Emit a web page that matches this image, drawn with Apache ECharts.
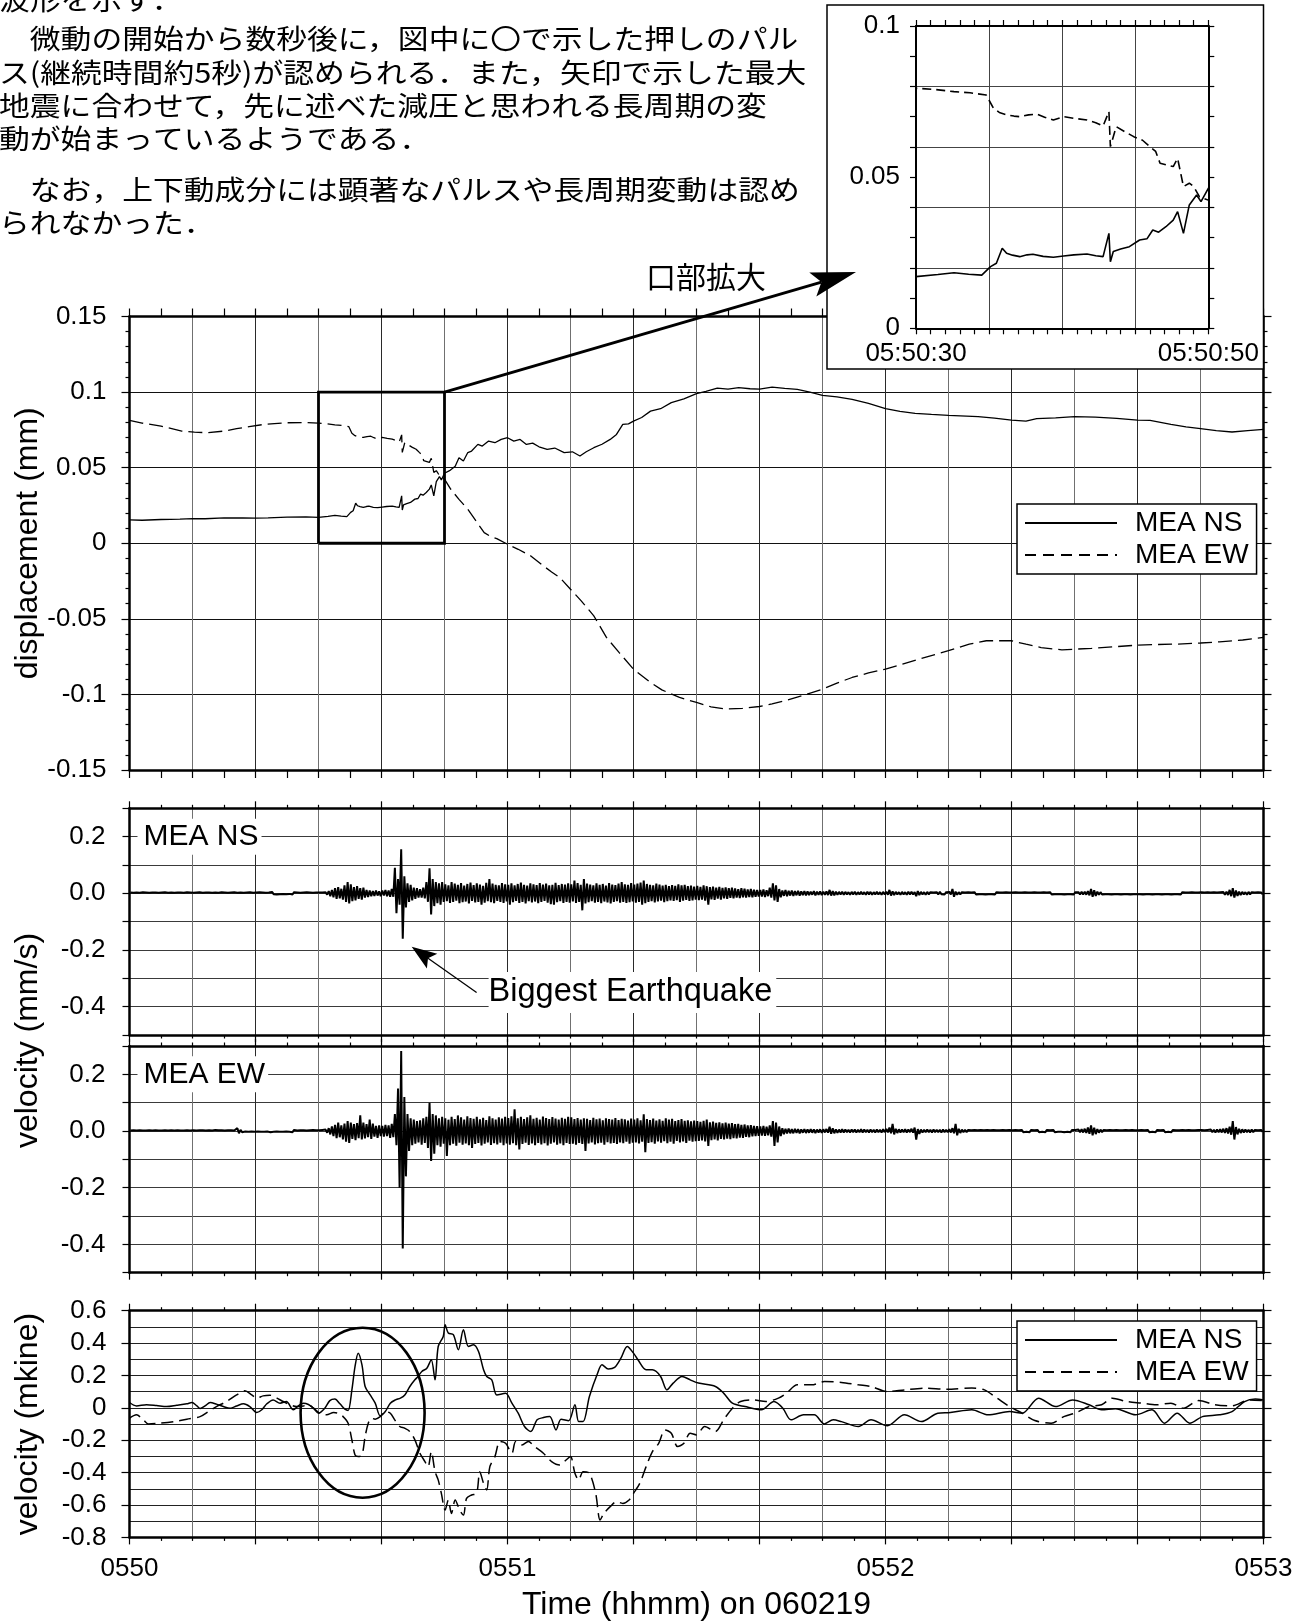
<!DOCTYPE html>
<html>
<head>
<meta charset="utf-8">
<script src="https://cdn.jsdelivr.net/npm/echarts@6/dist/echarts.min.js"></script>
<style>
html, body { margin: 0; padding: 0; background: #fff; }
#chart { width: 1310px; height: 1622px; }
</style>
</head>
<body>
<div id="chart"></div>
<script>
// ---------------------------------------------------------------
// Data: time is seconds after 05:50:00 (060219)
// ---------------------------------------------------------------

// Text block above the chart
const paragraphLines = [
  '波形を示す．',
  '　微動の開始から数秒後に，図中に〇で示した押しのパル',
  'ス(継続時間約5秒)が認められる．また，矢印で示した最大',
  '地震に合わせて，先に述べた減圧と思われる長周期の変',
  '動が始まっているようである．',
  '　なお，上下動成分には顕著なパルスや長周期変動は認め',
  'られなかった．'
];

const timeTickLabels = ['0550', '0551', '0552', '0553'];
const insetTickLabels = { 30: '05:50:30', 50: '05:50:50' };
const seriesNames = ['MEA NS', 'MEA EW'];

// Displacement (mm) [t, value]
const dispNS = [
  [0,.0154],[2,.0152],[5,.0157],[8,.016],[10,.0163],[12,.0162],[15,.0168],[18,.0167],[20,.0166],
  [22,.0168],[25,.0173],[28,.0175],[30,.0171],[31.5,.0178],[32.6,.0184],[33.6,.0179],[34.5,.0176],
  [35.1,.0204],[35.5,.0215],[35.9,.0265],[36.2,.0248],[36.6,.0242],[37.1,.0237],[37.6,.0243],
  [38,.0245],[38.7,.0238],[39.4,.0235],[40.1,.0239],[40.8,.0243],[41.7,.0246],[42.3,.0240],
  [42.8,.0237],[43.2,.0314],[43.3,.022],[43.5,.0254],[44,.0262],[44.6,.027],[45.3,.0292],
  [45.8,.0296],[46.2,.0325],[46.6,.0318],[47.1,.0336],[47.6,.0358],[47.9,.0386],[48.3,.0314],
  [48.7,.0408],[49.2,.0441],[49.5,.0419],[50,.0463],[50.8,.048],[51.7,.051],[52.3,.0566],
  [53,.0544],[53.7,.060],[54.3,.061],[55.3,.0654],[56,.0643],[57,.0676],[58,.0665],[59,.0687],
  [60,.0698],[61,.0676],[62,.0687],[63,.0654],[64,.0662],[65,.0638],[66.3,.0621],[67.5,.0630],
  [69,.060],[70.3,.0605],[71.5,.0577],[72.5,.0605],[73.7,.0632],[75,.0655],[76.3,.0687],
  [77.3,.0720],[78.3,.0786],[79.2,.0790],[80,.0808],[81.3,.0832],[82.7,.0874],[84.3,.0890],
  [86,.093],[88,.0955],[90,.099],[91.5,.1005],[93.3,.1026],[95,.1020],[96.7,.1029],[98.5,.1022],
  [100,.102],[102,.1033],[104,.1025],[106,.1018],[108,.1000],[110,.0978],[112.3,.0968],
  [114.7,.0952],[117.3,.0925],[120,.089],[122.3,.0872],[124.7,.0859],[127.3,.0852],[130,.0846],
  [134.7,.0837],[137.3,.0828],[140,.0815],[142.3,.0808],[144,.0824],[147,.0830],[150,.0837],
  [153.3,.0835],[156.7,.0826],[160,.0815],[162,.0813],[165.3,.0786],[167.7,.0770],[170,.0758],
  [172.5,.0745],[175,.0736],[177.5,.0745],[180,.0753]
];
const dispEW = [
  [0,.0813],[2,.0795],[5,.0775],[8.3,.0742],[10.3,.0735],[12.3,.0731],[15,.0742],[17,.0758],
  [19,.0772],[21,.0784],[23,.0792],[25,.0797],[28,.0798],[30,.0794],[31.3,.0790],[32.6,.0783],
  [33.7,.0779],[34.8,.0772],[35.3,.0728],[35.7,.0714],[36.2,.0706],[36.7,.0702],[37.1,.070],
  [37.7,.0706],[38.3,.0708],[38.8,.0698],[39.4,.0689],[40.1,.070],[40.9,.0694],[41.7,.0689],
  [42.3,.0680],[42.8,.0669],[43.2,.0717],[43.3,.0601],[43.7,.0667],[44.3,.0650],[44.9,.0634],
  [45.5,.0622],[46,.0601],[46.4,.0585],[46.7,.0546],[47.2,.0540],[47.6,.0535],[47.9,.0562],
  [48.3,.0469],[48.7,.0480],[49,.0469],[49.4,.0435],[50,.0424],[51,.0357],[52.3,.029],
  [53.7,.0225],[55,.0148],[56.3,.007],[57.3,.0045],[58.3,.0031],[60,-.0007],[61.7,-.004],
  [63.7,-.0084],[65.7,-.015],[67,-.019],[68.3,-.0227],[70,-.0304],[71.7,-.0381],[73.7,-.048],
  [75.7,-.0623],[77.7,-.0722],[80,-.0833],[82.5,-.0915],[84.5,-.097],[87.3,-.102],[90,-.1053],
  [92.3,-.1082],[94.7,-.1097],[97.3,-.1092],[100,-.108],[102,-.1062],[104,-.1042],[107,-.1005],
  [110,-.0965],[112.3,-.0925],[114.7,-.0888],[117.3,-.0858],[120,-.0833],[122.7,-.0800],
  [125.3,-.0767],[127.7,-.0738],[130,-.0711],[133.3,-.0667],[136,-.0645],[140,-.0645],
  [142.3,-.0668],[144.7,-.069],[148,-.0705],[150.3,-.0700],[152.7,-.0696],[156.3,-.0685],
  [160,-.0674],[163,-.0670],[166.3,-.0667],[170,-.0660],[173,-.0652],[176.7,-.0640],[180,-.0623]
];

// Zoomed window drawn as a box and enlarged in the inset
const zoomBoxT = [30, 50];
const zoomBoxV = [0, 0.1];

// Velocity (mm/s): peak-to-peak envelope in 0.5 s bins starting at 0 s (upper / lower peaks)
const velBinWidth = 0.5;
const nsVelHi = [
  .003,.002,.003,.002,.004,.003,.002,.003,.003,.002,.003,.004,.002,.003,.002,.003,.003,.002,.004,.003,
  .002,.003,.004,.002,.003,.003,.002,.003,.002,.004,.003,.002,.003,.004,.002,.003,.002,.003,.004,.002,
  .003,.004,.003,.002,.003,.005,.003,.002,.004,.003,.003,.002,.004,.003,.002,.003,.004,.003,.002,.003,
  .003,.003,.004,.008,.012,.018,.022,.016,.028,.040,.032,.022,.025,.018,.020,.012,.010,.008,.010,.007,
  .010,.012,.010,.015,.090,.050,.155,.060,.035,.030,.020,.018,.015,.020,.040,.088,.050,.040,.035,.040,
  .032,.028,.040,.034,.030,.036,.027,.033,.038,.029,.035,.031,.026,.037,.050,.034,.030,.028,.036,.032,
  .030,.035,.028,.033,.038,.030,.027,.035,.032,.029,.036,.031,.034,.028,.030,.037,.029,.033,.031,.035,
  .032,.045,.036,.030,.050,.034,.031,.028,.035,.030,.033,.027,.036,.031,.029,.034,.040,.032,.030,.036,
  .031,.034,.038,.045,.033,.030,.028,.034,.031,.027,.030,.025,.029,.026,.032,.028,.030,.025,.027,.024,
  .026,.023,.028,.025,.022,.024,.020,.023,.019,.021,.018,.020,.017,.015,.018,.016,.014,.015,.013,.012,
  .012,.014,.011,.020,.035,.028,.015,.010,.012,.009,.010,.008,.009,.007,.008,.007,.006,.008,.006,.007,
  .006,.007,.012,.008,.006,.005,.006,.005,.004,.005,.006,.004,.005,.004,.006,.005,.004,.005,.004,.005,
  .006,.012,.007,.005,.004,.005,.004,.006,.005,.004,.008,.005,.004,.005,.004,.003,.004,.005,.004,.004,
  .005,.015,.006,.004,.004,.003,.004,.003,.004,.003,.004,.003,.003,.004,.003,.004,.003,.003,.004,.003,
  .003,.004,.003,.003,.004,.003,.003,.004,.003,.003,.004,.003,.004,.003,.003,.004,.003,.003,.004,.003,
  .004,.004,.005,.006,.008,.015,.011,.006,.004,.003,.004,.003,.003,.004,.003,.003,.004,.003,.003,.004,
  .003,.004,.003,.003,.004,.003,.004,.003,.003,.004,.003,.003,.004,.003,.004,.003,.003,.004,.003,.003,
  .004,.003,.004,.003,.004,.003,.004,.005,.006,.012,.018,.010,.006,.005,.004,.005,.004,.003,.004,.003
];
const nsVelLo = [
  -.002,-.003,-.002,-.003,-.002,-.003,-.004,-.002,-.003,-.002,-.003,-.002,-.004,-.002,-.003,-.003,-.002,-.003,-.002,-.004,
  -.003,-.002,-.003,-.003,-.002,-.004,-.003,-.002,-.003,-.002,-.004,-.003,-.002,-.003,-.003,-.002,-.004,-.003,-.002,-.003,
  -.002,-.003,-.004,-.003,-.002,-.003,-.004,-.003,-.002,-.003,-.002,-.004,-.003,-.002,-.003,-.004,-.002,-.003,-.003,-.002,
  -.003,-.003,-.005,-.010,-.014,-.020,-.018,-.022,-.030,-.036,-.028,-.025,-.020,-.022,-.015,-.013,-.010,-.009,-.008,-.010,
  -.008,-.010,-.012,-.012,-.070,-.040,-.160,-.050,-.030,-.025,-.020,-.015,-.015,-.018,-.030,-.075,-.045,-.035,-.040,-.030,
  -.028,-.034,-.030,-.026,-.035,-.031,-.029,-.036,-.027,-.032,-.030,-.040,-.033,-.028,-.031,-.035,-.027,-.030,-.034,-.029,
  -.040,-.031,-.027,-.034,-.030,-.036,-.028,-.032,-.029,-.035,-.030,-.027,-.033,-.038,-.040,-.031,-.028,-.034,-.030,-.033,
  -.029,-.034,-.030,-.060,-.036,-.031,-.028,-.033,-.030,-.035,-.029,-.032,-.036,-.030,-.028,-.033,-.030,-.034,-.031,-.029,
  -.033,-.030,-.040,-.035,-.030,-.028,-.032,-.029,-.026,-.031,-.028,-.025,-.027,-.024,-.030,-.026,-.023,-.027,-.025,-.022,
  -.024,-.022,-.026,-.040,-.021,-.023,-.019,-.022,-.018,-.020,-.016,-.018,-.015,-.017,-.014,-.015,-.013,-.014,-.012,-.011,
  -.011,-.013,-.010,-.015,-.025,-.030,-.014,-.009,-.010,-.008,-.009,-.007,-.008,-.006,-.007,-.006,-.005,-.007,-.005,-.006,
  -.005,-.006,-.008,-.007,-.005,-.004,-.005,-.004,-.005,-.004,-.005,-.004,-.004,-.005,-.004,-.005,-.004,-.004,-.005,-.004,
  -.005,-.008,-.006,-.004,-.005,-.004,-.005,-.004,-.004,-.010,-.006,-.004,-.005,-.004,-.003,-.004,-.004,-.003,-.004,-.003,
  -.004,-.012,-.005,-.004,-.003,-.004,-.003,-.003,-.004,-.003,-.003,-.004,-.003,-.003,-.004,-.003,-.003,-.004,-.003,-.003,
  -.003,-.003,-.004,-.003,-.003,-.004,-.003,-.003,-.003,-.004,-.003,-.003,-.004,-.003,-.003,-.003,-.004,-.003,-.003,-.004,
  -.003,-.004,-.004,-.005,-.007,-.012,-.009,-.005,-.004,-.003,-.003,-.004,-.003,-.003,-.004,-.003,-.003,-.004,-.003,-.003,
  -.003,-.004,-.003,-.003,-.004,-.003,-.003,-.004,-.003,-.003,-.004,-.003,-.003,-.004,-.003,-.003,-.004,-.003,-.003,-.004,
  -.003,-.004,-.003,-.004,-.003,-.004,-.003,-.005,-.006,-.010,-.015,-.009,-.006,-.004,-.005,-.004,-.003,-.004,-.003,-.004
];
const ewVelHi = [
  .002,.003,.002,.003,.002,.002,.003,.002,.003,.002,.002,.003,.002,.003,.002,.003,.002,.002,.003,.002,
  .003,.002,.003,.003,.002,.003,.002,.004,.003,.003,.002,.003,.003,.002,.010,.004,.003,.002,.003,.002,
  .003,.002,.003,.004,.002,.003,.003,.002,.004,.003,.002,.003,.004,.002,.003,.003,.002,.003,.004,.003,
  .003,.004,.005,.010,.016,.022,.030,.020,.026,.035,.030,.024,.028,.055,.030,.024,.040,.026,.018,.020,
  .018,.022,.020,.025,.060,.150,.282,.120,.060,.045,.040,.035,.038,.045,.050,.100,.060,.055,.045,.050,
  .045,.040,.050,.042,.055,.048,.040,.052,.046,.043,.050,.041,.047,.039,.052,.045,.040,.048,.044,.050,
  .046,.052,.077,.045,.050,.042,.048,.055,.043,.047,.040,.051,.046,.042,.049,.044,.040,.047,.043,.050,
  .048,.042,.046,.040,.045,.043,.039,.047,.041,.044,.038,.045,.042,.040,.046,.039,.043,.041,.037,.044,
  .040,.045,.038,.059,.042,.039,.044,.037,.041,.036,.045,.040,.043,.035,.039,.042,.036,.038,.034,.037,
  .035,.032,.036,.040,.031,.033,.029,.031,.027,.030,.026,.028,.024,.025,.022,.023,.020,.021,.018,.017,
  .016,.018,.015,.020,.035,.030,.016,.010,.008,.009,.007,.008,.007,.006,.007,.006,.007,.006,.005,.006,
  .006,.007,.015,.010,.006,.005,.006,.005,.004,.005,.005,.004,.006,.005,.004,.005,.004,.005,.004,.006,
  .007,.012,.025,.008,.006,.005,.006,.005,.008,.012,.007,.005,.004,.005,.004,.005,.004,.004,.005,.004,
  .006,.010,.025,.008,.005,.004,.004,.003,.004,.003,.004,.003,.004,.003,.004,.003,.003,.004,.003,.004,
  .003,.004,.003,.004,.003,.003,.004,.003,.004,.003,.003,.004,.003,.004,.003,.003,.004,.003,.003,.004,
  .004,.005,.006,.008,.012,.020,.012,.007,.005,.004,.003,.004,.003,.004,.003,.003,.004,.003,.004,.003,
  .003,.004,.003,.004,.003,.003,.004,.003,.004,.003,.003,.004,.003,.003,.004,.003,.004,.003,.003,.004,
  .004,.003,.004,.005,.004,.005,.006,.008,.010,.015,.035,.014,.008,.006,.005,.004,.005,.004,.003,.004
];
const ewVelLo = [
  -.003,-.002,-.003,-.002,-.003,-.003,-.002,-.003,-.002,-.003,-.003,-.002,-.003,-.002,-.003,-.002,-.003,-.003,-.002,-.003,
  -.002,-.003,-.002,-.003,-.003,-.002,-.003,-.003,-.002,-.003,-.003,-.002,-.003,-.003,-.008,-.004,-.002,-.003,-.002,-.003,
  -.002,-.003,-.003,-.002,-.004,-.003,-.002,-.003,-.003,-.002,-.003,-.004,-.002,-.003,-.003,-.002,-.004,-.003,-.002,-.003,
  -.003,-.003,-.006,-.012,-.018,-.025,-.022,-.030,-.038,-.042,-.028,-.032,-.025,-.030,-.026,-.022,-.028,-.020,-.024,-.018,
  -.020,-.018,-.024,-.022,-.050,-.200,-.415,-.160,-.070,-.050,-.045,-.040,-.048,-.042,-.060,-.106,-.080,-.050,-.055,-.045,
  -.088,-.050,-.045,-.052,-.041,-.048,-.044,-.050,-.060,-.046,-.042,-.051,-.045,-.040,-.049,-.043,-.047,-.041,-.050,-.044,
  -.048,-.043,-.050,-.065,-.046,-.041,-.049,-.044,-.050,-.042,-.047,-.043,-.051,-.045,-.040,-.048,-.044,-.050,-.042,-.046,
  -.045,-.048,-.042,-.046,-.070,-.044,-.040,-.047,-.043,-.041,-.048,-.039,-.044,-.042,-.046,-.040,-.043,-.038,-.045,-.041,
  -.040,-.044,-.038,-.075,-.042,-.039,-.045,-.037,-.041,-.036,-.043,-.038,-.045,-.035,-.040,-.037,-.042,-.034,-.038,-.036,
  -.035,-.033,-.037,-.053,-.032,-.030,-.033,-.028,-.030,-.027,-.029,-.025,-.026,-.023,-.024,-.021,-.022,-.019,-.018,-.017,
  -.016,-.017,-.015,-.020,-.053,-.040,-.018,-.011,-.009,-.008,-.008,-.007,-.008,-.006,-.007,-.006,-.006,-.007,-.005,-.006,
  -.005,-.006,-.010,-.008,-.006,-.005,-.005,-.004,-.005,-.004,-.005,-.004,-.005,-.004,-.005,-.004,-.005,-.004,-.005,-.004,
  -.005,-.008,-.012,-.007,-.005,-.004,-.005,-.004,-.006,-.030,-.010,-.005,-.004,-.004,-.005,-.004,-.004,-.005,-.004,-.004,
  -.005,-.008,-.015,-.007,-.004,-.004,-.003,-.004,-.003,-.004,-.003,-.004,-.003,-.004,-.003,-.004,-.003,-.003,-.004,-.003,
  -.004,-.003,-.003,-.004,-.003,-.004,-.003,-.003,-.004,-.003,-.004,-.003,-.003,-.004,-.003,-.003,-.004,-.003,-.004,-.003,
  -.003,-.004,-.005,-.007,-.010,-.015,-.011,-.006,-.004,-.003,-.004,-.003,-.004,-.003,-.003,-.004,-.003,-.004,-.003,-.003,
  -.004,-.003,-.003,-.004,-.003,-.004,-.003,-.003,-.004,-.003,-.004,-.003,-.003,-.004,-.003,-.004,-.003,-.003,-.004,-.003,
  -.003,-.004,-.003,-.004,-.005,-.004,-.005,-.007,-.009,-.013,-.030,-.012,-.007,-.005,-.004,-.005,-.004,-.003,-.004,-.003
];

// Long-period velocity (mkine) [t, value]
const mkNS = [
  [0,.033],[1.1,.012],[2.7,.019],[4.3,.014],[5.9,.008],[7.5,.016],[9.1,.025],[9.9,.033],[10.7,.012],
  [11.2,-.004],[12,.012],[12.8,.033],[13.8,.023],[14.9,.008],[16,-.002],[17,.012],[18.1,.025],
  [19.1,.008],[20.2,-.029],[21,-.012],[21.8,.025],[22.8,.049],[23.9,.029],[24.9,.039],[26,-.012],
  [26.8,.012],[27.6,.029],[28.4,.021],[29.2,-.002],[30,-.033],[31,-.002],[31.8,.045],[32.6,.054],
  [33.4,.025],[34.2,-.008],[34.7,-.016],[35.3,.111],[35.8,.256],[36.3,.338],[36.9,.266],[37.4,.132],
  [38.2,.08],[39,.029],[39.8,-.049],[40.6,-.023],[41.4,.029],[42.2,.049],[43,.06],[43.7,.08],
  [44.5,.132],[45.3,.173],[45.8,.194],[46.4,.225],[47.2,.245],[47.9,.297],[48.5,.173],[49,.379],
  [49.8,.441],[50.1,.513],[50.6,.462],[51.4,.452],[52.2,.359],[53,.482],[53.8,.379],[54.6,.39],
  [55.4,.348],[56.2,.235],[56.7,.194],[57.5,.173],[58.3,.08],[59.7,.09],[60.7,.029],[61.7,-.033],
  [62.7,-.115],[63.7,-.146],[64.7,-.074],[65.7,-.06],[66.7,-.054],[67.7,-.136],[68.5,-.07],
  [69.7,-.08],[70.7,.019],[71.3,-.085],[72,-.085],[73,.07],[74.3,.214],[75,.266],[76,.24],[77,.25],
  [78,.307],[79,.379],[80,.338],[80.7,.297],[82,.235],[83,.235],[84.3,.194],[85.3,.111],[86.3,.153],
  [87.7,.194],[89,.173],[90.3,.153],[93,.132],[94.3,.091],[95.7,.029],[97.7,.008],[100.3,-.012],
  [102.3,.039],[103.7,-.002],[105,-.074],[107,-.043],[108.7,-.043],[110.3,-.099],[111.7,-.074],
  [113,-.085],[115.7,-.115],[117.7,-.074],[120.3,-.111],[123,-.043],[125.7,-.085],[128.3,-.033],
  [130.3,-.029],[133.7,-.012],[136.3,-.043],[139.7,-.023],[141.7,-.033],[144.3,.06],[147,.008],
  [149.7,.049],[152.3,.019],[154.3,-.012],[156.5,-.005],[159.7,-.043],[162.3,-.012],[164.3,-.095],
  [166.3,-.033],[168.3,-.095],[170.3,-.054],[173,-.043],[175,-.023],[177,.039],[178.7,.054],[180,.049]
];
const mkEW = [
  [0,-.064],[1.1,-.043],[2.2,-.074],[3,-.099],[4.8,-.095],[7,-.085],[9.1,-.07],[11.2,-.054],
  [12.5,-.023],[13.8,.008],[15.4,.039],[17,.08],[18.3,.105],[19.4,.08],[20.2,.06],[21.2,.074],
  [22.3,.078],[23.4,.06],[24.4,.039],[25.5,.019],[26.5,.008],[27.6,.012],[28.4,.019],[29.2,-.002],
  [30.2,-.033],[31.3,-.043],[32.4,-.029],[33.1,-.033],[33.9,-.054],[34.7,-.095],[35.3,-.198],
  [35.8,-.291],[36.3,-.301],[36.9,-.291],[37.4,-.177],[37.9,-.095],[38.4,-.064],[39,-.07],
  [39.8,-.054],[40.6,-.023],[41.4,-.033],[42.1,-.074],[42.9,-.115],[43.7,-.126],[44.5,-.146],
  [45.3,-.198],[46.1,-.28],[46.9,-.332],[47.4,-.363],[47.9,-.27],[48.5,-.394],[49,-.445],
  [49.5,-.528],[50.1,-.631],[50.6,-.569],[51.1,-.652],[51.7,-.569],[52.4,-.631],[53,-.662],
  [53.5,-.559],[54.3,-.538],[55.1,-.528],[55.6,-.394],[56.2,-.466],[56.7,-.507],[57.2,-.363],
  [58,-.301],[58.8,-.208],[59.7,-.219],[60.7,-.28],[61.3,-.208],[62.3,-.229],[63.3,-.208],
  [64.3,-.239],[65.7,-.28],[67,-.332],[68.3,-.353],[69.3,-.322],[70,-.301],[70.7,-.404],
  [71.3,-.445],[72,-.394],[73,-.404],[74,-.528],[74.7,-.693],[75.3,-.652],[76.3,-.61],[77.3,-.579],
  [78.3,-.59],[79.3,-.569],[80,-.528],[81,-.466],[82,-.363],[83,-.27],[84,-.219],[85,-.136],
  [86,-.157],[87,-.239],[88,-.219],[89,-.157],[90,-.167],[91.3,-.115],[93,-.146],[94.3,-.074],
  [95.7,-.002],[97,.039],[99,.049],[101,.039],[103,.06],[104.3,.091],[106,.142],[108.3,.142],
  [110.3,.163],[113,.157],[115.7,.142],[117.7,.132],[120.3,.101],[123,.111],[126.3,.122],
  [129.7,.115],[133.7,.122],[135.7,.111],[137.7,.06],[139.7,.008],[141.7,-.033],[143.7,-.078],
  [146.3,-.095],[148.3,-.054],[150.3,-.029],[152.3,.008],[154.3,.019],[156,.06],[158.3,.039],
  [160.7,.029],[163,.019],[165.3,.029],[167.3,-.002],[169.7,.045],[172.3,.019],[175,.012],
  [177.7,.049],[180,.045]
];

// ---------------------------------------------------------------
// Layout / style
// ---------------------------------------------------------------
const FONT = '"Liberation Sans", Arial, Helvetica, sans-serif';
const JFONT = '"Noto Sans CJK JP", "Noto Sans CJK SC", sans-serif';
const TICK_FS = 26;

const grids = [
  { left: 129.5, top: 316.5, width: 1134, height: 453.5 },  // 0 displacement
  { left: 129.5, top: 808.3, width: 1134, height: 226.7 },  // 1 NS velocity
  { left: 129.5, top: 1046,  width: 1134, height: 226.7 },  // 2 EW velocity
  { left: 129.5, top: 1310.7, width: 1134, height: 226.7 }, // 3 long-period velocity
  { left: 916,   top: 26,    width: 292.3, height: 302.3 }  // 4 inset
].map(g => Object.assign({ containLabel: false, outerBoundsMode: 'none' }, g));

const xAxis = [], yAxis = [];

function axisBase(o) {
  return Object.assign({
    type: 'value', silent: true,
    axisLine: { show: false, onZero: false },
    axisTick: { show: false },
    minorTick: { show: false },
    axisLabel: { show: false },
    splitLine: { show: false },
    z: 0
  }, o);
}
function gridLines(list, g, min, max, interval, color, z, position) {
  list.push(axisBase({
    gridIndex: g, min, max, interval, z: z || 0, position,
    splitLine: { show: true, lineStyle: { color, width: 1 } }
  }));
  return list.length - 1;
}
function frameAxis(list, g, position, min, max, interval, opt) {
  opt = opt || {};
  list.push(axisBase({
    gridIndex: g, position, min, max, interval, z: opt.z || 1,
    axisLine: { show: true, onZero: false, lineStyle: { color: '#000', width: opt.lw || 2.5 } },
    axisTick: { show: true, length: opt.tick, lineStyle: { color: '#000', width: 1.2 } },
    minorTick: opt.minor
      ? { show: true, splitNumber: opt.minor[0], length: opt.minor[1], lineStyle: { color: '#000', width: 1.2 } }
      : { show: false },
    axisLabel: opt.label
      ? Object.assign({ show: true, color: '#000', fontFamily: FONT, fontSize: TICK_FS }, opt.label)
      : { show: false }
  }));
  return list.length - 1;
}

// label formatters
const fmtTime = v => { const r = Math.round(v); return r % 60 === 0 ? timeTickLabels[r / 60] : ''; };
const fmtDisp = v => String(Math.round(v * 100) / 100);
const fmtVel = v => { const r = Math.round(v * 10); return r % 2 === 0 ? (r / 10).toFixed(1) : ''; };
const fmtMk = v => String(Math.round(v * 10) / 10);
const fmtInsetX = v => insetTickLabels[Math.round(v)] || '';
const fmtInsetY = v => { const r = Math.round(v * 100); return r % 5 === 0 ? String(r / 100) : ''; };

const GRID_LIGHT = '#707070', GRID_DARK = '#2a2a2a';

// --- displacement panel
gridLines(xAxis, 0, 0, 180, 10, GRID_LIGHT, 0, 'bottom');
gridLines(xAxis, 0, 0, 180, 20, GRID_DARK, 0, 'bottom');
const xDisp = frameAxis(xAxis, 0, 'bottom', 0, 180, 10, { tick: 8, minor: [2, 8] });
frameAxis(xAxis, 0, 'top', 0, 180, 10, { tick: 8, minor: [2, 8] });
gridLines(yAxis, 0, -0.15, 0.15, 0.05, '#111', 0, 'left');
const yDisp = frameAxis(yAxis, 0, 'left', -0.15, 0.15, 0.05, { tick: 8, minor: [5, 4], label: { formatter: fmtDisp, margin: 23 } });
frameAxis(yAxis, 0, 'right', -0.15, 0.15, 0.05, { tick: 8, minor: [5, 4] });

// --- velocity panels
const xVel = [], yVel = [];
[1, 2].forEach(g => {
  gridLines(xAxis, g, 0, 180, 10, GRID_LIGHT, 0, 'bottom');
  gridLines(xAxis, g, 0, 180, 20, GRID_DARK, 0, 'bottom');
  xVel.push(frameAxis(xAxis, g, 'bottom', 0, 180, 20, { tick: 7, minor: [4, 3.5] }));
  frameAxis(xAxis, g, 'top', 0, 180, 20, { tick: 7, minor: [4, 3.5] });
  gridLines(yAxis, g, -0.5, 0.3, 0.1, '#3a3a3a', 0, 'left');
  yVel.push(frameAxis(yAxis, g, 'left', -0.5, 0.3, 0.1, { tick: 7, label: { formatter: fmtVel, margin: 24 } }));
  frameAxis(yAxis, g, 'right', -0.5, 0.3, 0.1, { tick: 7 });
});

// --- long-period velocity panel
gridLines(xAxis, 3, 0, 180, 10, GRID_LIGHT, 0, 'bottom');
gridLines(xAxis, 3, 0, 180, 20, GRID_DARK, 0, 'bottom');
const xMk = frameAxis(xAxis, 3, 'bottom', 0, 180, 20, { tick: 7, minor: [4, 3.5], label: { formatter: fmtTime, margin: 18 } });
frameAxis(xAxis, 3, 'top', 0, 180, 20, { tick: 7, minor: [4, 3.5] });
gridLines(yAxis, 3, -0.8, 0.6, 0.1, '#222', 0, 'left');
const yMk = frameAxis(yAxis, 3, 'left', -0.8, 0.6, 0.2, { tick: 8, label: { formatter: fmtMk, margin: 23 } });
frameAxis(yAxis, 3, 'right', -0.8, 0.6, 0.2, { tick: 8 });

// --- inset (enlarged window)
gridLines(xAxis, 4, 30, 50, 5, '#444', 6, 'bottom');
const xIn = frameAxis(xAxis, 4, 'bottom', 30, 50, 1, { tick: 6, lw: 2, z: 7, label: { formatter: fmtInsetX, margin: 13 } });
frameAxis(xAxis, 4, 'top', 30, 50, 1, { tick: 6, lw: 2, z: 7 });
gridLines(yAxis, 4, 0, 0.1, 0.02, '#444', 6, 'left');
const yIn = frameAxis(yAxis, 4, 'left', 0, 0.1, 0.01, { tick: 6, lw: 2, z: 7, label: { formatter: fmtInsetY, margin: 16 } });
frameAxis(yAxis, 4, 'right', 0, 0.1, 0.01, { tick: 6, lw: 2, z: 7 });

// seismogram traces: upper and lower peak of each bin in turn
function seismogram(hi, lo) {
  const out = [];
  for (let k = 0; k < hi.length; k++) {
    const t = k * velBinWidth;
    out.push([t + velBinWidth * 0.25, hi[k]], [t + velBinWidth * 0.75, lo[k]]);
  }
  return out;
}
const boxData = [
  [zoomBoxT[0], zoomBoxV[0]], [zoomBoxT[0], zoomBoxV[1]],
  [zoomBoxT[1], zoomBoxV[1]], [zoomBoxT[1], zoomBoxV[0]], [zoomBoxT[0], zoomBoxV[0]]
];

function lineSeries(name, xi, yi, data, style, extra) {
  return Object.assign({
    name, type: 'line', xAxisIndex: xi, yAxisIndex: yi, data,
    symbol: 'none', showSymbol: false, silent: true, animation: false,
    itemStyle: { color: '#000' },
    lineStyle: Object.assign({ color: '#000', width: 1.3 }, style),
    emphasis: { disabled: true }, z: 2
  }, extra || {});
}

const series = [
  lineSeries(seriesNames[0], xDisp, yDisp, dispNS, { width: 1.3 }),
  lineSeries(seriesNames[1], xDisp, yDisp, dispEW, { width: 1.3, type: [14, 6] }),
  lineSeries('zoom box', xDisp, yDisp, boxData, { width: 2.8, join: 'miter' }, { z: 3 }),
  lineSeries('inset NS', xIn, yIn, dispNS, { width: 1.6 }, { z: 8 }),
  lineSeries('inset EW', xIn, yIn, dispEW, { width: 1.6, type: [9, 5] }, { z: 8 }),
  lineSeries('NS velocity', xVel[0], yVel[0], seismogram(nsVelHi, nsVelLo), { width: 2, join: 'bevel' }),
  lineSeries('EW velocity', xVel[1], yVel[1], seismogram(ewVelHi, ewVelLo), { width: 2, join: 'bevel' }),
  lineSeries(seriesNames[0], xMk, yMk, mkNS, { width: 1.5 }, { smooth: 0.3 }),
  lineSeries(seriesNames[1], xMk, yMk, mkEW, { width: 1.5, type: [12, 6] }, { smooth: 0.3 })
];

// legend markers are plain line samples (the point symbol is made invisible)
const hiddenMarker = { color: 'rgba(0,0,0,0)', borderColor: 'rgba(0,0,0,0)', borderWidth: 0, opacity: 0 };
function legendAt(left, top) {
  return {
    data: [
      { name: seriesNames[0], itemStyle: hiddenMarker, lineStyle: { width: 2, type: 'solid', color: '#000' } },
      { name: seriesNames[1], itemStyle: hiddenMarker, lineStyle: { width: 2, type: [11, 7], color: '#000' } }
    ],
    orient: 'vertical', left, top,
    itemWidth: 92, itemHeight: 14, itemGap: 4,
    padding: [5, 8, 5, 7],
    borderColor: '#000', borderWidth: 1.5, backgroundColor: '#fff',
    selectedMode: false, z: 4,
    textStyle: { fontFamily: FONT, fontSize: 28, color: '#000', padding: [0, 0, 0, 13] }
  };
}

const chart = echarts.init(document.getElementById('chart'), null, { renderer: 'canvas', width: 1310, height: 1622 });
chart.setOption({
  animation: false,
  backgroundColor: '#fff',
  grid: grids,
  xAxis, yAxis,
  legend: [legendAt(1017, 504), legendAt(1017, 1321)],
  series
});

// ---------------------------------------------------------------
// Annotations (placed from axis coordinates where they point at data)
// ---------------------------------------------------------------
const px = (xi, yi, p) => chart.convertToPixel({ xAxisIndex: xi, yAxisIndex: yi }, p);

function arrowHead(tip, from, len, half) {
  const dx = tip[0] - from[0], dy = tip[1] - from[1];
  const d = Math.hypot(dx, dy), ux = dx / d, uy = dy / d, nx = -uy, ny = ux;
  const bx = tip[0] - ux * len, by = tip[1] - uy * len;
  const notch = [tip[0] - ux * len * 0.8, tip[1] - uy * len * 0.8];
  return {
    points: [tip, [bx + nx * half, by + ny * half], notch, [bx - nx * half, by - ny * half]],
    neck: notch
  };
}

const graphics = [];

// paragraph above the chart
const paraY = [0, 39, 73, 106, 139, 190, 223];
paragraphLines.forEach((s, i) => {
  graphics.push({
    type: 'text', x: -1, y: paraY[i], scaleX: 1.12, z: 1,
    style: { text: s, font: '27.5px ' + JFONT, fill: '#000', align: 'left', verticalAlign: 'middle' }
  });
});

// inset frame
graphics.push({
  type: 'rect', z: 5,
  shape: { x: 827, y: 5, width: 436.5, height: 364 },
  style: { fill: '#fff', stroke: '#000', lineWidth: 1.5 }
});

// arrow from the zoom box to the inset
const corner = px(xDisp, yDisp, [zoomBoxT[1], zoomBoxV[1]]);
const tipMain = [856, 272];
const headMain = arrowHead(tipMain, corner, 45, 12.5);
graphics.push(
  { type: 'line', z: 10, shape: { x1: corner[0], y1: corner[1], x2: headMain.neck[0], y2: headMain.neck[1] },
    style: { stroke: '#000', lineWidth: 3 } },
  { type: 'polygon', z: 10, shape: { points: headMain.points }, style: { fill: '#000' } },
  { type: 'text', x: 646, y: 277, z: 10,
    style: { text: '口部拡大', font: '30px ' + JFONT, fill: '#000', align: 'left', verticalAlign: 'middle' } }
);

// trace labels in the velocity panels
[[0, 'MEA NS'], [1, 'MEA EW']].forEach(([i, label]) => {
  const p = px(xVel[i], yVel[i], [0, 0.2]);
  graphics.push({
    type: 'text', x: p[0] + 8, y: p[1], z: 3,
    style: { text: label, font: '30px ' + FONT, fill: '#000', backgroundColor: '#fff',
      padding: [3, 3, 3, 6], align: 'left', verticalAlign: 'middle' }
  });
});

// biggest earthquake annotation
const eqSpike = px(xVel[0], yVel[0], [43.2, -0.16]);
const eqText = px(xVel[0], yVel[0], [57, -0.35]);
const eqTip = [eqSpike[0] + 10, eqSpike[1] + 8];
const eqTail = [eqText[0] - 12, eqText[1]];
const headEq = arrowHead(eqTip, eqTail, 25, 9);
graphics.push(
  { type: 'line', z: 3, shape: { x1: eqTail[0], y1: eqTail[1], x2: headEq.neck[0], y2: headEq.neck[1] },
    style: { stroke: '#000', lineWidth: 1.3 } },
  { type: 'polygon', z: 3, shape: { points: headEq.points }, style: { fill: '#000' } },
  { type: 'text', x: eqText[0], y: eqText[1], z: 3,
    style: { text: 'Biggest Earthquake', font: '32.5px ' + FONT, fill: '#000', backgroundColor: '#fff',
      padding: [4, 4, 4, 0], align: 'left', verticalAlign: 'middle' } }
);

// ellipse around the pressure pulse
const pulse = px(xMk, yMk, [37, -0.03]);
graphics.push({
  type: 'ellipse', z: 3,
  shape: { cx: pulse[0], cy: pulse[1], rx: 62, ry: 85 },
  style: { fill: 'none', stroke: '#000', lineWidth: 2.6 }
});

// axis titles
function vTitle(text, cy) {
  return { type: 'text', x: 28, y: cy, rotation: Math.PI / 2, z: 1,
    style: { text, font: '32px ' + FONT, fill: '#000', align: 'center', verticalAlign: 'middle' } };
}
graphics.push(
  vTitle('displacement (mm)', grids[0].top + grids[0].height / 2),
  vTitle('velocity (mm/s)', (grids[1].top + grids[2].top + grids[2].height) / 2),
  vTitle('velocity (mkine)', grids[3].top + grids[3].height / 2),
  { type: 'text', x: grids[3].left + grids[3].width / 2, y: 1605, z: 1,
    style: { text: 'Time (hhmm) on 060219', font: '32px ' + FONT, fill: '#000', align: 'center', verticalAlign: 'middle' } }
);

chart.setOption({ graphic: { elements: graphics } });
</script>
</body>
</html>
